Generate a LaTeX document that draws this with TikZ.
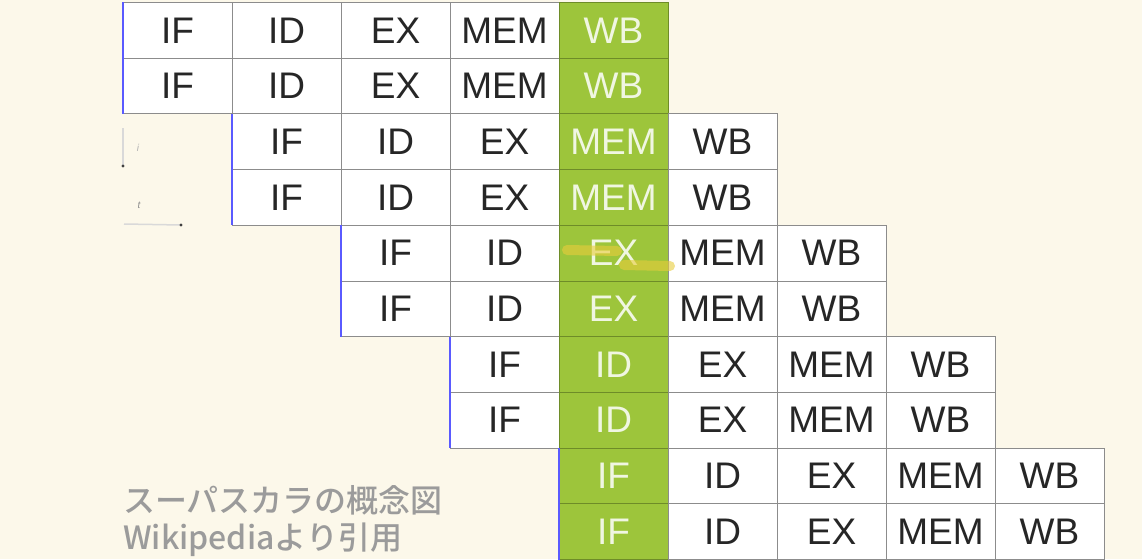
\documentclass[tikz,border=0pt]{standalone}
\usepackage{fontspec}
\setmainfont{Liberation Sans}
\newfontfamily\jpfont{Noto Sans CJK JP}[UprightFont={* Medium}]
\definecolor{bgcol}{RGB}{252,248,234}
\definecolor{gcol}{RGB}{157,197,59}
\definecolor{gedge}{RGB}{110,140,40}
\definecolor{edgecol}{RGB}{140,140,140}
\definecolor{bluecol}{RGB}{90,90,255}
\definecolor{captcol}{RGB}{155,155,155}
\definecolor{hlcol}{RGB}{232,205,60}
\tikzset{
  cell/.style={draw=edgecol, line width=1pt, fill=white, minimum width=109pt, minimum height=55.7pt, inner sep=0pt, text=black!85, font=\fontsize{37}{37}\selectfont},
  gcell/.style={cell, fill=gcol, draw=gedge, text=white!85!gcol},
  blueedge/.style={draw=bluecol, line width=2.6pt},
  faint/.style={draw=black!15, line width=1.5pt},
  caption/.style={anchor=west, inner sep=0pt, text=captcol, font=\jpfont\fontsize{32}{32}\selectfont},
  highlight/.style={draw=hlcol, opacity=0.6, line width=10pt, line cap=round}
}
\begin{document}
\begin{tikzpicture}[x=1pt,y=-1pt]
\fill[bgcol] (0,0) rectangle (1142,559);
\useasboundingbox (0,0) rectangle (1142,559);
\foreach \r in {0,...,9} {
  \pgfmathtruncatemacro\p{int(\r/2)}
  \foreach \s [count=\k from 0] in {IF,ID,EX,MEM,WB} {
    \pgfmathtruncatemacro\c{\p+\k}
    \def\st{cell}
    \ifnum\c=4 \def\st{gcell}\fi
    \node[\st] (c-\r-\c) at ({123+109*\c+54.5},{2.5+55.7*\r+27.85}) {\s};
  }
}
\foreach \p in {0,...,4} {
  \coordinate (bt\p) at ({123+109*\p},{2.5+111.4*\p});
  \coordinate (bb\p) at ({123+109*\p},{2.5+111.4*(\p+1)});
  \draw[blueedge] (bt\p) -- (bb\p);
}
% faint remnants at left
\coordinate (fa) at (123,128);
\coordinate (fb) at (123,166);
\coordinate (fc) at (124,224);
\coordinate (fd) at (181,225);
\draw[faint] (fa) -- (fb);
\fill[black!75] (fb) circle (1.6);
\draw[faint] (fc) -- (fd);
\fill[black!75] (fd) circle (1.6);
\node[text=black!30, font=\itshape\fontsize{10}{10}\selectfont, inner sep=0pt] (fi) at (138,148) {i};
\node[text=black!45, font=\itshape\fontsize{10}{10}\selectfont, inner sep=0pt] (ft) at (139,205) {t};
% yellow highlighter strokes
\coordinate (h1) at (567,250);
\coordinate (h2) at (617,251);
\coordinate (h3) at (624,265);
\coordinate (h4) at (670,266);
\draw[highlight] (h1) -- (h2);
\draw[highlight] (h3) -- (h4);
% caption
\node[caption] (cap1) at (123,500) {スーパスカラの概念図};
\node[caption] (cap2) at (123,540) {Wikipediaより引用};
\end{tikzpicture}
\end{document}
